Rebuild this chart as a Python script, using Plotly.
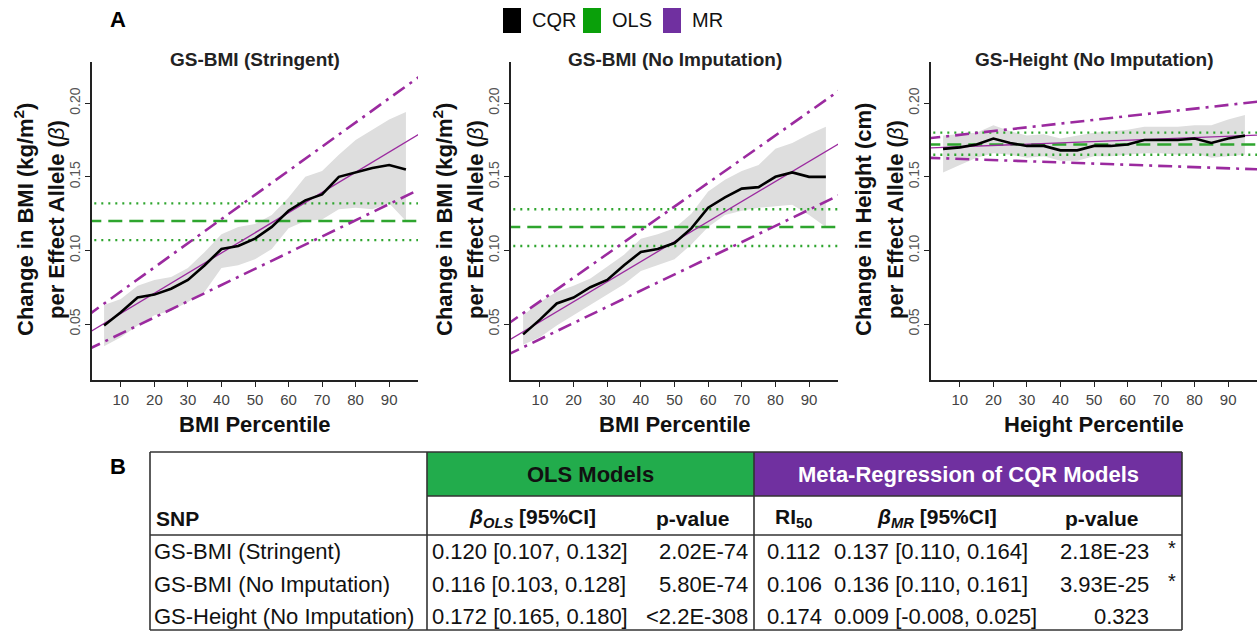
import plotly.graph_objects as go

W, H = 1257, 631
FONT = "Liberation Sans, Arial, sans-serif"

# ---------------- data ----------------
percentiles = [5, 10, 15, 20, 25, 30, 35, 40, 45, 50, 55, 60, 65, 70, 75, 80, 85, 90, 95]
x_ticks = [10, 20, 30, 40, 50, 60, 70, 80, 90]
y_ticks = [0.05, 0.10, 0.15, 0.20]

panel_titles = ["GS-BMI (Stringent)", "GS-BMI (No Imputation)", "GS-Height (No Imputation)"]
x_titles = ["BMI Percentile", "BMI Percentile", "Height Percentile"]
y_title_line1 = ["Change in BMI (kg/m<sup>2</sup>)", "Change in BMI (kg/m<sup>2</sup>)", "Change in Height (cm)"]
y_title_line2 = "per Effect Allele ("

cqr_stringent = [0.049, 0.058, 0.068, 0.070, 0.074, 0.080, 0.090, 0.101, 0.103, 0.108, 0.116,
                 0.127, 0.134, 0.138, 0.150, 0.153, 0.156, 0.158, 0.155]
cqr_stringent_lo = [0.035, 0.041, 0.049, 0.056, 0.059, 0.065, 0.072, 0.088, 0.090, 0.094, 0.101,
                    0.115, 0.120, 0.121, 0.128, 0.129, 0.128, 0.132, 0.120]
cqr_stringent_hi = [0.063, 0.067, 0.076, 0.080, 0.082, 0.088, 0.099, 0.111, 0.116, 0.118, 0.124,
                    0.136, 0.150, 0.154, 0.165, 0.175, 0.182, 0.189, 0.194]

cqr_noimp = [0.043, 0.053, 0.064, 0.068, 0.075, 0.080, 0.090, 0.099, 0.101, 0.105, 0.115,
             0.129, 0.136, 0.142, 0.143, 0.150, 0.153, 0.150, 0.150]
cqr_noimp_lo = [0.036, 0.041, 0.049, 0.056, 0.063, 0.070, 0.077, 0.086, 0.090, 0.094, 0.104,
                0.116, 0.124, 0.127, 0.129, 0.130, 0.131, 0.124, 0.116]
cqr_noimp_hi = [0.056, 0.065, 0.072, 0.076, 0.081, 0.089, 0.097, 0.108, 0.111, 0.115, 0.125,
                0.140, 0.148, 0.154, 0.158, 0.169, 0.173, 0.179, 0.184]

cqr_height = [0.169, 0.170, 0.172, 0.176, 0.173, 0.171, 0.171, 0.168, 0.168, 0.171, 0.171,
              0.172, 0.175, 0.175, 0.175, 0.176, 0.173, 0.176, 0.178]
cqr_height_lo = [0.153, 0.158, 0.163, 0.166, 0.165, 0.163, 0.164, 0.161, 0.161, 0.164, 0.164,
                 0.165, 0.166, 0.166, 0.165, 0.166, 0.163, 0.164, 0.165]
cqr_height_hi = [0.178, 0.179, 0.180, 0.185, 0.181, 0.178, 0.179, 0.176, 0.178, 0.180, 0.181,
                 0.182, 0.184, 0.184, 0.184, 0.185, 0.185, 0.189, 0.192]

cqr_series = [cqr_stringent, cqr_noimp, cqr_height]
cqr_lower = [cqr_stringent_lo, cqr_noimp_lo, cqr_height_lo]
cqr_upper = [cqr_stringent_hi, cqr_noimp_hi, cqr_height_hi]

# OLS estimates and CI
ols_beta = [0.120, 0.116, 0.172]
ols_lo = [0.107, 0.103, 0.165]
ols_hi = [0.132, 0.128, 0.180]
ols_p = ["2.02E-74", "5.80E-74", "&lt;2.2E-308"]

# Meta-regression
mr_ri50 = [0.112, 0.106, 0.174]
mr_beta = [0.137, 0.136, 0.009]
mr_lo = [0.110, 0.110, -0.008]
mr_hi = [0.164, 0.161, 0.025]
mr_p = ["2.18E-23", "3.93E-25", "0.323"]
mr_sig = ["*", "*", ""]
# MR confidence band lines: values at percentile 0 and 100
mr_band_x = [0, 100]
mr_upper_ends = [[0.0557, 0.2197], [0.0493, 0.2103], [0.1760, 0.2014]]
mr_lower_ends = [[0.0325, 0.1425], [0.0287, 0.1387], [0.1630, 0.1550]]

snp_names = ["GS-BMI (Stringent)", "GS-BMI (No Imputation)", "GS-Height (No Imputation)"]
legend_labels = ["CQR", "OLS", "MR"]
legend_colors = ["#000000", "#0AA00A", "#7030A0"]

# ---------------- styles / layout ----------------
C_MR = "#9B2A9F"
C_OLS = "#2EA52E"
C_BAND = "#DEDEDE"

axis_left_px = [92, 511, 931]
axis_right_px = [418, 838, 1257]
plot_top_px, plot_bottom_px = 62, 380
x_range = [1.4, 98.6]
y_range = [0.012, 0.228]


def px(xp):
    return xp / W


def py(yp):
    return 1 - yp / H


fig = go.Figure()
annotations = []
shapes = []


def note(text, x, y, size, color="#111", xanchor="center", angle=0):
    annotations.append(dict(text=text, x=px(x), y=py(y), xref="paper", yref="paper",
                            xanchor=xanchor, yanchor="middle", showarrow=False,
                            textangle=angle, font=dict(size=size, color=color, family=FONT)))


for i in range(3):
    xa = "x" if i == 0 else f"x{i+1}"
    ya = "y" if i == 0 else f"y{i+1}"
    # band
    fig.add_trace(go.Scatter(
        x=percentiles + percentiles[::-1],
        y=cqr_upper[i] + cqr_lower[i][::-1],
        fill="toself", fillcolor=C_BAND, line=dict(width=0),
        mode="lines", hoverinfo="skip", showlegend=False, xaxis=xa, yaxis=ya))
    # OLS
    fig.add_trace(go.Scatter(x=[0, 100], y=[ols_beta[i]] * 2, mode="lines",
                             line=dict(color=C_OLS, width=2.5, dash="14px,7px"),
                             showlegend=False, xaxis=xa, yaxis=ya))
    for v in (ols_lo[i], ols_hi[i]):
        fig.add_trace(go.Scatter(x=[0, 100], y=[v] * 2, mode="lines",
                                 line=dict(color=C_OLS, width=2.4, dash="2px,5px"),
                                 showlegend=False, xaxis=xa, yaxis=ya))
    # MR regression line
    fig.add_trace(go.Scatter(
        x=mr_band_x,
        y=[mr_ri50[i] + mr_beta[i] * (xx - 50) / 100 for xx in mr_band_x],
        mode="lines", line=dict(color=C_MR, width=1.3),
        showlegend=False, xaxis=xa, yaxis=ya))
    for ends in (mr_upper_ends[i], mr_lower_ends[i]):
        fig.add_trace(go.Scatter(x=mr_band_x, y=ends, mode="lines",
                                 line=dict(color=C_MR, width=2.6, dash="14px,6px,3px,6px"),
                                 showlegend=False, xaxis=xa, yaxis=ya))
    # CQR
    fig.add_trace(go.Scatter(x=percentiles, y=cqr_series[i], mode="lines",
                             line=dict(color="#000000", width=2.6),
                             showlegend=False, xaxis=xa, yaxis=ya))

    ax_common = dict(showline=True, linecolor="#222222", linewidth=1.6, ticks="outside",
                     ticklen=5, tickwidth=1.4, tickcolor="#222222", showgrid=False,
                     zeroline=False, mirror=False)
    fig.layout[f"xaxis{'' if i == 0 else i+1}"] = dict(
        ax_common, domain=[px(axis_left_px[i]), px(axis_right_px[i])], range=x_range,
        tickvals=x_ticks, tickfont=dict(size=15, color="#444444", family=FONT),
        anchor=ya)
    fig.layout[f"yaxis{'' if i == 0 else i+1}"] = dict(
        ax_common, domain=[py(plot_bottom_px), py(plot_top_px)], range=y_range,
        tickvals=y_ticks, tickformat=".2f", tickangle=-90,
        tickfont=dict(size=14, color="#555555", family=FONT), anchor=xa)

    cx = (axis_left_px[i] + axis_right_px[i]) / 2
    note(f"<b>{panel_titles[i]}</b>", cx, 60, 19, "#222")
    note(f"<b>{x_titles[i]}</b>", cx, 424, 22)
    note(f"<b>{y_title_line1[i]}</b>", axis_left_px[i] - 68, 220, 22, angle=-90)
    note(f"<b>{y_title_line2}</b><i>β</i><b>)</b>", axis_left_px[i] - 36, 220, 22, angle=-90)

# panel letters
note("<b>A</b>", 118, 19, 22, "#000")
note("<b>B</b>", 118, 466, 22, "#000")

# legend
leg_x = [503, 583, 663]
for lx, lab, col in zip(leg_x, legend_labels, legend_colors):
    shapes.append(dict(type="rect", xref="paper", yref="paper", x0=px(lx), x1=px(lx + 18),
                       y0=py(33), y1=py(8), fillcolor=col, line=dict(width=0)))
    note(lab, lx + 27, 20, 20, xanchor="left")

# ---------------- table ----------------
T_L, T_R, T_T, T_B = 150, 1182, 452, 630
C1, C2 = 427, 754
H1, H2 = 496, 535
LC = "#333333"
shapes.append(dict(type="rect", xref="paper", yref="paper", x0=px(C1), x1=px(C2),
                   y0=py(H1), y1=py(T_T), fillcolor="#22AC4C", line=dict(width=0), layer="below"))
shapes.append(dict(type="rect", xref="paper", yref="paper", x0=px(C2), x1=px(T_R),
                   y0=py(H1), y1=py(T_T), fillcolor="#7030A0", line=dict(width=0), layer="below"))


def hline(y, x0, x1):
    shapes.append(dict(type="line", xref="paper", yref="paper", x0=px(x0), x1=px(x1),
                       y0=py(y), y1=py(y), line=dict(color=LC, width=1.6)))


def vline(x, y0, y1):
    shapes.append(dict(type="line", xref="paper", yref="paper", x0=px(x), x1=px(x),
                       y0=py(y0), y1=py(y1), line=dict(color=LC, width=1.6)))


hline(T_T, T_L, T_R)
hline(T_B, T_L, T_R)
hline(H1, C1, T_R)
hline(H2, T_L, T_R)
vline(T_L, T_T, T_B)
vline(T_R, T_T, T_B)
vline(C1, T_T, T_B)
vline(C2, T_T, T_B)

note("<b>OLS Models</b>", (C1 + C2) / 2, 474, 22)
note("<b>Meta-Regression of CQR Models</b>", (C2 + T_R) / 2, 474, 22, "#FFFFFF")
note("<b>SNP</b>", 154, 518, 21, xanchor="left")
note("<b><i>β</i><sub><i>OLS</i></sub> [95%CI]</b>", 532, 518, 21)
note("<b>p-value</b>", 693, 518, 21)
note("<b>RI<sub>50</sub></b>", 793, 518, 21)
note("<b><i>β</i><sub><i>MR</i></sub> [95%CI]</b>", 937, 518, 21)
note("<b>p-value</b>", 1102, 518, 21)

row_y = [551, 584, 616]
for r in range(3):
    y = row_y[r]
    note(snp_names[r], 152, y, 22, xanchor="left")
    note(f"{ols_beta[r]:.3f} [{ols_lo[r]:.3f}, {ols_hi[r]:.3f}]", 430, y, 22, xanchor="left")
    note(ols_p[r], 750, y, 22, xanchor="right")
    note(f"{mr_ri50[r]:.3f}", 765, y, 22, xanchor="left")
    note(f"{mr_beta[r]:.3f} [{mr_lo[r]:.3f}, {mr_hi[r]:.3f}]", 832, y, 22, xanchor="left")
    note(mr_p[r], 1151, y, 22, xanchor="right")
    if mr_sig[r]:
        note(mr_sig[r], 1172, y - 3, 20)

fig.update_layout(
    width=W, height=H, margin=dict(l=0, r=0, t=0, b=0),
    paper_bgcolor="white", plot_bgcolor="white",
    font=dict(family=FONT, color="#111"),
    annotations=annotations, shapes=shapes, showlegend=False,
)

fig.write_html("out.html")
